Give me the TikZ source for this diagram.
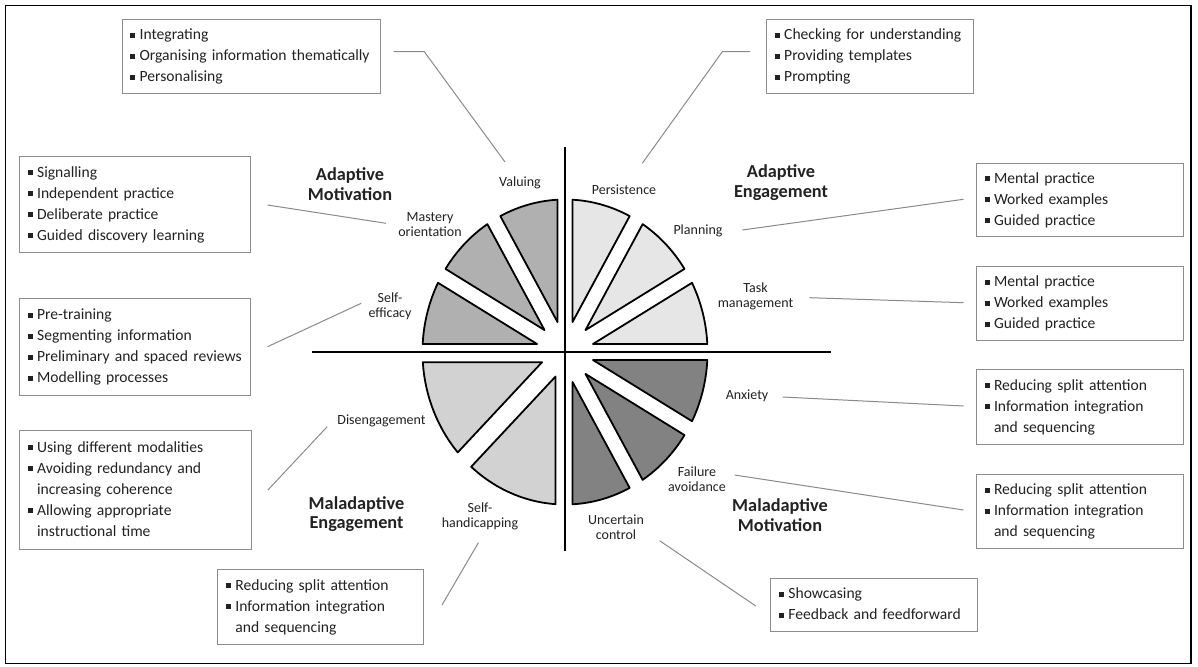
\documentclass[tikz,border=0pt]{standalone}
\usepackage{fontspec}
\setmainfont{Carlito}
\usetikzlibrary{calc}
\definecolor{boxgray}{HTML}{8C8C8C}
\definecolor{conngray}{HTML}{8A8A8A}
\definecolor{textc}{HTML}{222222}
\definecolor{amot}{HTML}{B0B0B0}
\definecolor{aeng}{HTML}{E6E6E6}
\definecolor{mmot}{HTML}{828282}
\definecolor{meng}{HTML}{D2D2D2}
\newcommand{\bq}{\strut\raisebox{2pt}{\rule{5pt}{5pt}}\hspace{4.5pt}}
\newcommand{\ind}{\strut\hspace*{9.5pt}}
\newcommand{\pieseg}[4]{%
  \pgfmathsetmacro{\segm}{(#1+#2)/2}%
  \pgfmathsetmacro{\segd}{#3/sin((#2-#1)/2)}%
  \pgfmathsetmacro{\segdel}{asin(#3/142.5)}%
  \pgfmathsetmacro{\sega}{#1+\segdel}%
  \pgfmathsetmacro{\segb}{#2-\segdel}%
  \draw[piece, fill=#4] ({565+\segd*cos(\segm)},{352-1.07*\segd*sin(\segm)})
    -- plot[domain=\sega:\segb, samples=30, variable=\t] ({565+142.5*cos(\t)},{352-152.5*sin(\t)}) -- cycle;
}
\tikzset{
  bx/.style={draw=boxgray, line width=1pt, anchor=north west, align=left,
    inner xsep=8pt, inner ysep=0pt, text=textc,
    font=\fontsize{15.6}{21}\selectfont},
  lbl/.style={align=center, inner sep=1pt, text=textc,
    font=\fontsize{14}{15}\selectfont},
  ttl/.style={align=center, inner sep=1pt, text=textc,
    font=\fontsize{18.3}{19.5}\selectfont\bfseries},
  conn/.style={draw=conngray, line width=1pt},
  piece/.style={draw=black, line width=1.8pt, line join=round},
  axisline/.style={draw=black, line width=2.4pt},
  frame/.style={draw=black, line width=1.5pt},
}
\begin{document}
\begin{tikzpicture}[x=1pt,y=-1pt]
\useasboundingbox (0,0) rectangle (1198,666);
\fill[white] (0,0) rectangle (1198,666);
\draw[frame] (5.5,5.5) rectangle (1191,663.5);

% pie segments
\pieseg{90}{120}{7.5}{amot}
\pieseg{120}{150}{7.5}{amot}
\pieseg{150}{180}{7.5}{amot}
\pieseg{60}{90}{7.5}{aeng}
\pieseg{30}{60}{7.5}{aeng}
\pieseg{0}{30}{7.5}{aeng}
\pieseg{330}{360}{7.5}{mmot}
\pieseg{300}{330}{7.5}{mmot}
\pieseg{270}{300}{7.5}{mmot}
\pieseg{180}{225}{9.5}{meng}
\pieseg{225}{270}{9.5}{meng}

% axes
\coordinate (axT) at (565,147);
\coordinate (axB) at (565,551);
\coordinate (axL) at (312,352);
\coordinate (axR) at (831,352);
\draw[axisline] (axT) -- (axB);
\draw[axisline] (axL) -- (axR);

% quadrant titles
\node[ttl] (tAM) at (350,184) {Adaptive\\Motivation};
\node[ttl] (tAE) at (781,182.5) {Adaptive\\Engagement};
\node[ttl] (tME) at (356.5,514) {Maladaptive\\Engagement};
\node[ttl] (tMM) at (780,515) {Maladaptive\\Motivation};

% segment labels
\node[lbl] (valuing) at (520,183) {Valuing};
\node[lbl] (persist) at (624,189.5) {Persistence};
\node[lbl] (mastery) at (430,225) {Mastery\\orientation};
\node[lbl] (selfeff) at (390,306.5) {Self-\\efficacy};
\node[lbl] (planning) at (698,230.5) {Planning};
\node[lbl] (taskm) at (755.5,296.5) {Task\\management};
\node[lbl] (anxiety) at (747,395.5) {Anxiety};
\node[lbl] (failure) at (697,479) {Failure\\avoidance};
\node[lbl] (uncert) at (616,527) {Uncertain\\control};
\node[lbl] (selfhand) at (480,516) {Self-\\handicapping};
\node[lbl] (diseng) at (381.5,421) {Disengagement};

% boxes
\node[bx, minimum width=258.8pt, minimum height=74.3pt, text width=242.8pt] (b1) at (121.6,19)
  {\bq Integrating\\ \bq Organising information thematically\\ \bq Personalising};
\node[bx, minimum width=206.8pt, minimum height=73.7pt, text width=190.8pt] (b2) at (766.2,19)
  {\bq Checking for understanding\\ \bq Providing templates\\ \bq Prompting};
\node[bx, minimum width=231.3pt, minimum height=96.6pt, text width=215.3pt] (b3) at (19.1,155.7)
  {\bq Signalling\\ \bq Independent practice\\ \bq Deliberate practice\\ \bq Guided discovery learning};
\node[bx, minimum width=206.7pt, minimum height=73.3pt, text width=190.7pt] (b4) at (976,162.7)
  {\bq Mental practice\\ \bq Worked examples\\ \bq Guided practice};
\node[bx, minimum width=231.3pt, minimum height=96.7pt, text width=215.3pt] (b5) at (19.1,298.3)
  {\bq Pre-training\\ \bq Segmenting information\\ \bq Preliminary and spaced reviews\\ \bq Modelling processes};
\node[bx, minimum width=206.7pt, minimum height=74.3pt, text width=190.7pt] (b6) at (976,265.7)
  {\bq Mental practice\\ \bq Worked examples\\ \bq Guided practice};
\node[bx, minimum width=206.7pt, minimum height=74.7pt, text width=190.7pt] (b7) at (976,369.3)
  {\bq Reducing split attention\\ \bq Information integration\\ \ind and sequencing};
\node[bx, minimum width=231.6pt, minimum height=119.3pt, text width=215.6pt] (b8) at (19.1,430)
  {\bq Using different modalities\\ \bq Avoiding redundancy and\\ \ind increasing coherence\\ \bq Allowing appropriate\\ \ind instructional time};
\node[bx, minimum width=206.7pt, minimum height=74.3pt, text width=190.7pt] (b9) at (976,474)
  {\bq Reducing split attention\\ \bq Information integration\\ \ind and sequencing};
\node[bx, minimum width=205.5pt, minimum height=75.3pt, text width=189.5pt] (b10) at (217.4,569)
  {\bq Reducing split attention\\ \bq Information integration\\ \ind and sequencing};
\node[bx, minimum width=206.5pt, minimum height=52.4pt, text width=190.5pt] (b11) at (770.4,578.3)
  {\bq Showcasing\\ \bq Feedback and feedforward};

% connector end points
\coordinate (cVa) at (505,162);   \coordinate (cVb) at (424.3,51.7);  \coordinate (cVc) at (393.7,51.7);
\coordinate (cPa) at (642.3,163.3); \coordinate (cPb) at (722.3,51.7); \coordinate (cPc) at (750,51.7);
\coordinate (cMa) at (386,223.3); \coordinate (cMb) at (267.6,205);
\coordinate (cSa) at (361.2,303.3); \coordinate (cSb) at (267.6,346.7);
\coordinate (cPla) at (742.3,230); \coordinate (cPlb) at (963.5,199.3);
\coordinate (cTa) at (809.6,297.7); \coordinate (cTb) at (963.5,302.7);
\coordinate (cAa) at (782.7,397); \coordinate (cAb) at (963.5,406);
\coordinate (cFa) at (734.6,475); \coordinate (cFb) at (963.5,510);
\coordinate (cUa) at (659.6,540.7); \coordinate (cUb) at (755.8,606);
\coordinate (cHa) at (478.4,542.7); \coordinate (cHb) at (442,605);
\coordinate (cDa) at (327.2,426.7); \coordinate (cDb) at (267.9,490);

\draw[conn] (cVa) -- (cVb) -- (cVc);
\draw[conn] (cPa) -- (cPb) -- (cPc);
\draw[conn] (cMa) -- (cMb);
\draw[conn] (cSa) -- (cSb);
\draw[conn] (cPla) -- (cPlb);
\draw[conn] (cTa) -- (cTb);
\draw[conn] (cAa) -- (cAb);
\draw[conn] (cFa) -- (cFb);
\draw[conn] (cUa) -- (cUb);
\draw[conn] (cHa) -- (cHb);
\draw[conn] (cDa) -- (cDb);
\end{tikzpicture}
\end{document}
